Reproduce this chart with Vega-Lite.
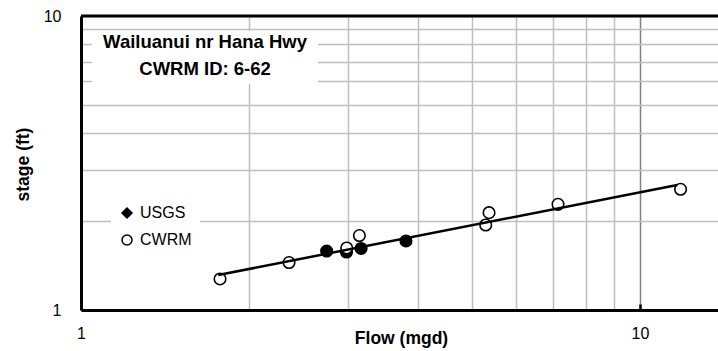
{
  "$schema": "https://vega.github.io/schema/vega-lite/v6.json",
  "width": 637,
  "height": 294,
  "autosize": "none",
  "padding": {"left": 81, "top": 16, "right": 0, "bottom": 41},
  "background": "white",
  "config": {
    "view": {"stroke": null},
    "font": "Liberation Sans",
    "legend": {
      "orient": "none",
      "legendX": 30,
      "legendY": 181,
      "fillColor": "#ffffff",
      "padding": 8,
      "labelFontSize": 16,
      "labelColor": "#000000",
      "symbolSize": 100,
      "symbolStrokeColor": "#000000",
      "symbolStrokeWidth": 1.5,
      "rowPadding": 11,
      "labelOffset": 5
    }
  },
  "datasets": {
    "pts": [
      {"flow": 2.751, "stage": 1.587, "source": "USGS"},
      {"flow": 2.985, "stage": 1.575, "source": "USGS"},
      {"flow": 2.988, "stage": 1.625, "source": "CWRM"},
      {"flow": 3.148, "stage": 1.792, "source": "CWRM"},
      {"flow": 3.17, "stage": 1.619, "source": "USGS"},
      {"flow": 3.814, "stage": 1.717, "source": "USGS"},
      {"flow": 1.773, "stage": 1.275, "source": "CWRM"},
      {"flow": 2.356, "stage": 1.45, "source": "CWRM"},
      {"flow": 5.297, "stage": 1.946, "source": "CWRM"},
      {"flow": 5.37, "stage": 2.143, "source": "CWRM"},
      {"flow": 7.134, "stage": 2.288, "source": "CWRM"},
      {"flow": 11.82, "stage": 2.574, "source": "CWRM"}
    ],
    "fit": [
      {"flow": 1.76, "stage": 1.315},
      {"flow": 11.66, "stage": 2.662}
    ],
    "one": [{}]
  },
  "layer": [
    {
      "data": {"name": "one"},
      "mark": {"type": "rect", "fill": "white"},
      "encoding": {
        "x": {
          "datum": 1.046, "type": "quantitative",
          "scale": {"type": "log", "domain": [1, 13.79], "nice": false},
          "axis": {
            "values": [1, 2, 3, 4, 5, 6, 7, 8, 9, 10],
            "labelExpr": "datum.value == 1 || datum.value == 10 ? datum.label : ''",
            "format": "d",
            "title": "Flow (mgd)",
            "titleFontSize": 17.5,
            "titleFontWeight": "bold",
            "titleColor": "#000000",
            "titleBaseline": "alphabetic",
            "titleX": 320,
            "titleY": 33,
            "labelFontSize": 16,
            "labelColor": "#000000",
            "labelFont": "Liberation Sans",
            "labelBaseline": "alphabetic",
            "labelPadding": 34,
            "labelFlush": false,
            "labelOverlap": false,
            "domainColor": "#000000",
            "domainWidth": 3,
            "ticks": true,
            "tickSize": -6,
            "tickWidth": 2.5,
            "tickColor": "#000000",
            "tickOpacity": {"condition": {"test": "datum.value == 10", "value": 1}, "value": 0},
            "grid": true,
            "gridColor": {"condition": {"test": "datum.value == 10", "value": "#808080"}, "value": "#bfbfbf"},
            "gridWidth": 1.5,
            "gridOpacity": 1
          }
        },
        "x2": {"datum": 2.655},
        "y": {
          "datum": 8.89, "type": "quantitative",
          "scale": {"type": "log", "domain": [1, 10], "nice": false},
          "axis": {
            "values": [1, 2, 3, 4, 5, 6, 7, 8, 9, 10],
            "labelExpr": "datum.value == 1 || datum.value == 10 ? datum.label : ''",
            "format": "d",
            "title": "stage (ft)",
            "titleFontSize": 17.5,
            "titleFontWeight": "bold",
            "titleColor": "#000000",
            "titleAngle": -90,
            "titleBaseline": "alphabetic",
            "titleAlign": "center",
            "titleX": -53,
            "titleY": 148,
            "labelFontSize": 16,
            "labelColor": "#000000",
            "labelPadding": 20,
            "labelOverlap": false,
            "labelFlush": false,
            "domainColor": "#000000",
            "domainWidth": 3,
            "ticks": false,
            "grid": true,
            "gridColor": "#bfbfbf",
            "gridWidth": 1.5,
            "gridOpacity": 1
          }
        },
        "y2": {"datum": 5.87}
      }
    },
    {
      "data": {"name": "one"},
      "mark": {
        "type": "text",
        "text": ["Wailuanui nr Hana Hwy", "CWRM ID: 6-62"],
        "lineHeight": 27,
        "align": "center",
        "baseline": "alphabetic",
        "fontSize": 18.5,
        "fontWeight": "bold",
        "color": "#000000"
      },
      "encoding": {
        "x": {"datum": 1.667, "type": "quantitative"},
        "y": {"datum": 7.79, "type": "quantitative"}
      }
    },
    {
      "data": {"name": "one"},
      "mark": {"type": "rule", "color": "#000000", "strokeWidth": 3},
      "encoding": {"y": {"datum": 10, "type": "quantitative"}}
    },
    {
      "data": {"name": "pts"},
      "mark": {"type": "point", "filled": true, "size": 0, "strokeWidth": 1.5, "opacity": 1},
      "encoding": {
        "x": {"field": "flow", "type": "quantitative"},
        "y": {"field": "stage", "type": "quantitative"},
        "shape": {
          "field": "source", "type": "nominal",
          "scale": {"domain": ["USGS", "CWRM"], "range": ["diamond", "circle"]},
          "legend": {"title": null}
        },
        "fill": {
          "field": "source", "type": "nominal",
          "scale": {"domain": ["USGS", "CWRM"], "range": ["#000000", "#ffffff"]},
          "legend": {"title": null}
        },
        "stroke": {
          "field": "source", "type": "nominal",
          "scale": {"domain": ["USGS", "CWRM"], "range": ["#000000", "#000000"]},
          "legend": {"title": null}
        }
      }
    },
    {
      "data": {"name": "pts"},
      "mark": {"type": "point", "shape": "circle", "filled": true, "size": 133, "strokeWidth": 1.6, "opacity": 1},
      "encoding": {
        "x": {"field": "flow", "type": "quantitative"},
        "y": {"field": "stage", "type": "quantitative"},
        "fill": {
          "field": "source", "type": "nominal",
          "scale": {"domain": ["USGS", "CWRM"], "range": ["#000000", "#ffffff"]},
          "legend": {"title": null}
        },
        "stroke": {
          "field": "source", "type": "nominal",
          "scale": {"domain": ["USGS", "CWRM"], "range": ["#000000", "#000000"]},
          "legend": {"title": null}
        }
      }
    },
    {
      "data": {"name": "fit"},
      "mark": {"type": "line", "color": "#000000", "strokeWidth": 2.5},
      "encoding": {
        "x": {"field": "flow", "type": "quantitative"},
        "y": {"field": "stage", "type": "quantitative"}
      }
    }
  ]
}
